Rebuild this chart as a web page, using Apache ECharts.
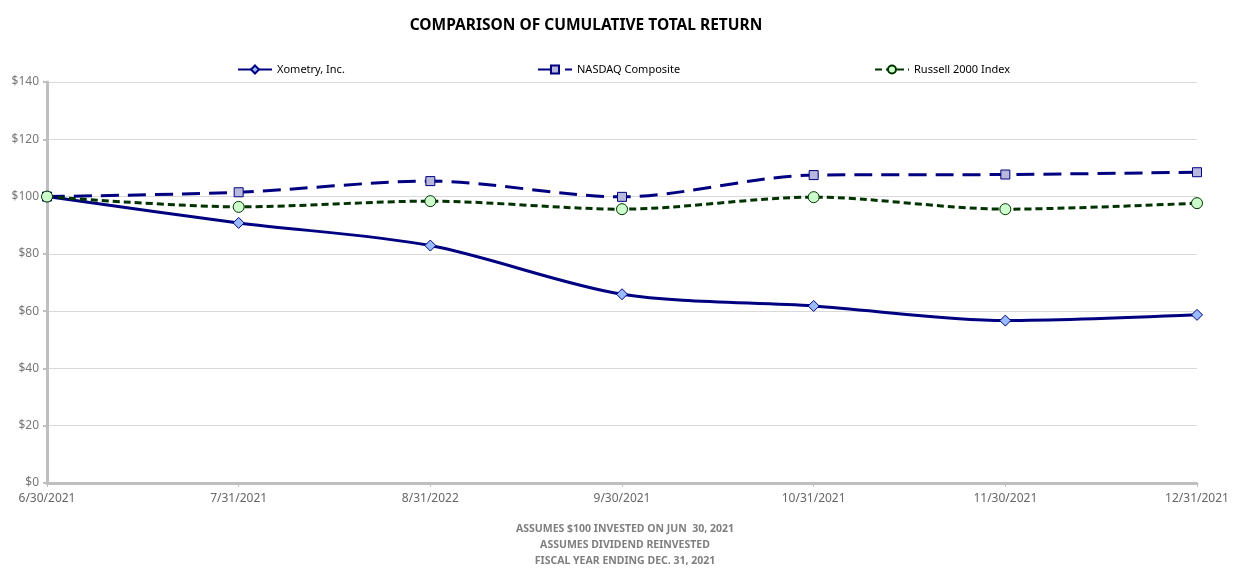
<!DOCTYPE html>
<html><head><meta charset="utf-8">
<script src="https://cdn.jsdelivr.net/npm/echarts@6/dist/echarts.min.js"></script>
<style>html,body{margin:0;padding:0;background:#fff}#c{width:1239px;height:582px}</style>
</head><body><div id="c"></div>
<script>
const categories = ['6/30/2021','7/31/2021','8/31/2022','9/30/2021','10/31/2021','11/30/2021','12/31/2021'];
const xometry = [100, 90.8, 82.9, 65.9, 61.8, 56.7, 58.7];
const nasdaq = [100, 101.5, 105.4, 99.9, 107.5, 107.7, 108.5];
const russell = [100, 96.4, 98.4, 95.6, 99.8, 95.6, 97.7];
const yTicks = [0, 20, 40, 60, 80, 100, 120, 140];
const footnotes = ['ASSUMES $100 INVESTED ON JUN  30, 2021','ASSUMES DIVIDEND REINVESTED','FISCAL YEAR ENDING DEC. 31, 2021'];

const font = '"Liberation Sans Narrow", "Noto Sans", sans-serif';
const legendText = {fontFamily: font, fontSize: 11, color: '#000'};
const chart = echarts.init(document.getElementById('c'));
chart.setOption({
  animation: false,
  backgroundColor: '#fff',
  title: [{
    text: 'COMPARISON OF CUMULATIVE TOTAL RETURN',
    left: 581, top: 13, textAlign: 'center',
    textStyle: {fontFamily: font, fontSize: 15.5, fontWeight: 'bold', color: '#000'}
  }, {
    text: footnotes.join('\n'),
    left: 620, top: 516, textAlign: 'center',
    textStyle: {fontFamily: font, fontSize: 10.5, fontWeight: 'bold', color: '#7f7f7f', lineHeight: 16}
  }],
  legend: [
    {data: ['Xometry, Inc.'], left: 237, top: 64, padding: 0, itemWidth: 34, itemHeight: 10, textStyle: legendText},
    {data: ['NASDAQ Composite'], left: 537, top: 64, padding: 0, itemWidth: 34, itemHeight: 10, textStyle: legendText},
    {data: ['Russell 2000 Index'], left: 874, top: 64, padding: 0, itemWidth: 34, itemHeight: 10, textStyle: legendText}
  ],
  grid: {left: 47, right: 42, top: 82, bottom: 99},
  xAxis: {
    type: 'category', data: categories, boundaryGap: false,
    axisLine: {lineStyle: {color: '#bfbfbf', width: 3}},
    axisTick: {show: true, length: 4, lineStyle: {color: '#bfbfbf', width: 1}},
    axisLabel: {fontFamily: font, fontSize: 12, color: '#666', margin: 10},
    splitLine: {show: false}
  },
  yAxis: {
    type: 'value', min: 0, max: 140, interval: 20,
    axisLine: {show: true, lineStyle: {color: '#bfbfbf', width: 3}},
    axisTick: {show: true, length: 4, lineStyle: {color: '#bfbfbf', width: 2}},
    axisLabel: {fontFamily: font, fontSize: 12, color: '#777', margin: 8, formatter: v => '$' + v},
    splitLine: {lineStyle: {color: '#d9d9d9', width: 1}}
  },
  series: [
    {
      name: 'Xometry, Inc.', type: 'line', data: xometry, smooth: 0.3,
      symbol: 'diamond', symbolSize: 11,
      lineStyle: {color: '#000080', width: 3},
      itemStyle: {color: '#99bbff', borderColor: '#000080', borderWidth: 1},
      z: 3
    },
    {
      name: 'NASDAQ Composite', type: 'line', data: nasdaq, smooth: 0.3,
      symbol: 'rect', symbolSize: 9,
      lineStyle: {color: '#000080', width: 3, type: [18, 9]},
      itemStyle: {color: '#b8b8dc', borderColor: '#000080', borderWidth: 1},
      z: 2
    },
    {
      name: 'Russell 2000 Index', type: 'line', data: russell, smooth: 0.3,
      symbol: 'circle', symbolSize: 11,
      lineStyle: {color: '#003300', width: 3, type: [7, 4]},
      itemStyle: {color: '#ccffcc', borderColor: '#003300', borderWidth: 1},
      z: 4
    }
  ]
});
</script></body></html>
